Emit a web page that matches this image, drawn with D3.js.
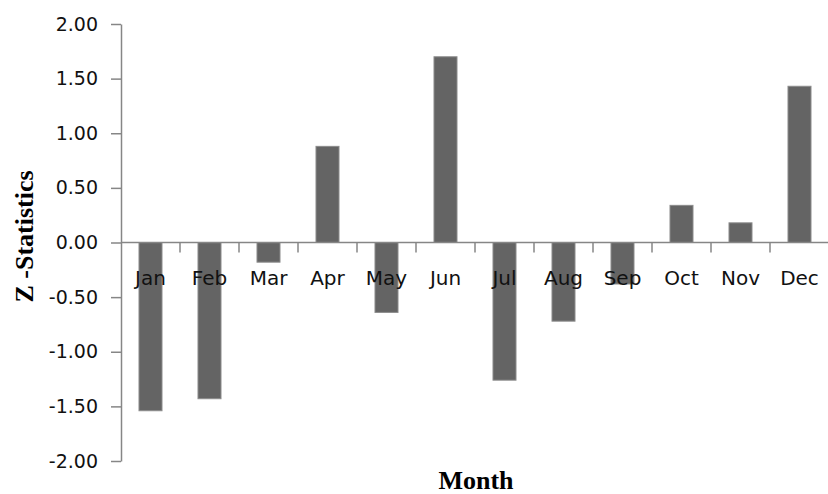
<!DOCTYPE html>
<html>
<head>
<meta charset="utf-8">
<script src="https://cdn.jsdelivr.net/npm/d3@7"></script>
<style>
  body { margin: 0; background: #fff; }
</style>
</head>
<body>
<svg></svg>
<script>
// month z-statistics
var months = ["Jan", "Feb", "Mar", "Apr", "May", "Jun", "Jul", "Aug", "Sep", "Oct", "Nov", "Dec"]
var zValues = [-1.54, -1.43, -0.18, 0.88, -0.64, 1.70, -1.26, -0.72, -0.38, 0.34, 0.18, 1.43]
var yTicks = [-2, -1.5, -1, -0.5, 0, 0.5, 1, 1.5, 2]

var svg = d3.select("svg")
    .attr("width", 828)
    .attr("height", 494)

// note: "top" is taken by window.top, so plot edges get their own names
var plotLeft = 121, plotRight = 829, plotTop = 24, plotBottom = 461

var scY = d3.scaleLinear()
    .domain([-2, 2])
    .range([plotBottom, plotTop])

var scX = d3.scaleBand()
    .domain(months)
    .range([plotLeft, plotRight])
    .paddingInner(0.61)
    .paddingOuter(0.305)

var axisColor = "#868686"
var textColor = "#111"

// bars
svg.selectAll("rect.bar")
    .data(zValues)
    .enter().append("rect")
    .attr("class", "bar")
    .attr("x", (d, i) => scX(months[i]))
    .attr("width", scX.bandwidth())
    .attr("y", d => scY(Math.max(0, d)))
    .attr("height", d => Math.abs(scY(d) - scY(0)))
    .attr("fill", "#646464")
    .attr("stroke", "#8c8c8c")
    .attr("stroke-width", 1)

// y axis (plain hyphen for negatives, like the original)
var yAxis = d3.axisLeft(scY)
    .tickValues(yTicks)
    .tickFormat(d => d.toFixed(2))
    .tickSize(10)
    .tickSizeOuter(0)

var yAxisGroup = svg.append("g")
    .attr("transform", `translate(${plotLeft}, 0)`)
    .call(yAxis)

yAxisGroup.select(".domain").attr("stroke", axisColor).attr("stroke-width", 1.5)
yAxisGroup.selectAll(".tick line").attr("stroke", axisColor).attr("stroke-width", 1.5)
yAxisGroup.selectAll(".tick text")
    .attr("x", -23)
    .attr("fill", textColor)
    .style("font-family", "'DejaVu Sans', sans-serif")
    .style("font-size", "19px")

// x axis at zero, ticks on category boundaries
var xAxisGroup = svg.append("g")
    .attr("transform", `translate(0, ${scY(0)})`)

xAxisGroup.append("line")
    .attr("x1", plotLeft).attr("x2", plotRight)
    .attr("stroke", axisColor).attr("stroke-width", 1.5)

var step = scX.step()
xAxisGroup.selectAll("line.tk")
    .data(months)
    .enter().append("line")
    .attr("class", "tk")
    .attr("x1", (d, i) => plotLeft + step * (i + 1))
    .attr("x2", (d, i) => plotLeft + step * (i + 1))
    .attr("y1", 0).attr("y2", 10)
    .attr("stroke", axisColor).attr("stroke-width", 1.5)

xAxisGroup.selectAll("text")
    .data(months)
    .enter().append("text")
    .attr("x", d => scX(d) + scX.bandwidth() / 2)
    .attr("y", 42)
    .attr("text-anchor", "middle")
    .attr("fill", textColor)
    .style("font-family", "'DejaVu Sans', sans-serif")
    .style("font-size", "20px")
    .text(d => d)

// titles
svg.append("text")
    .attr("transform", `translate(33, ${(plotTop + plotBottom) / 2 - 6}) rotate(-90)`)
    .attr("text-anchor", "middle")
    .attr("fill", "#000")
    .style("font-family", "'Liberation Serif', serif")
    .style("font-weight", "bold")
    .style("font-size", "26px")
    .text("Z -Statistics")

svg.append("text")
    .attr("x", 476)
    .attr("y", 489)
    .attr("text-anchor", "middle")
    .attr("fill", "#000")
    .style("font-family", "'Liberation Serif', serif")
    .style("font-weight", "bold")
    .style("font-size", "26px")
    .text("Month")
</script>
</body>
</html>
